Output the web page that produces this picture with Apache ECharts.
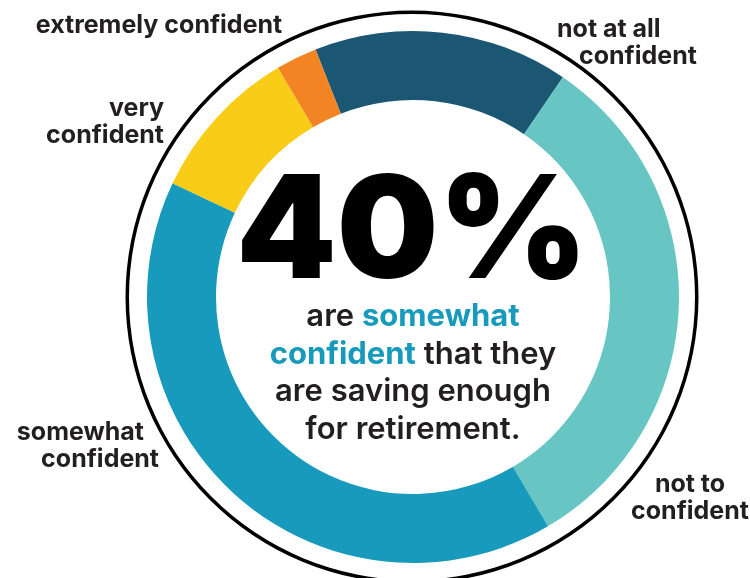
<!DOCTYPE html>
<html>
<head>
<meta charset="utf-8">
<script src="https://cdn.jsdelivr.net/npm/echarts@6/dist/echarts.min.js"></script>
<style>
html,body{margin:0;padding:0;background:#fff;}
#c{width:750px;height:578px;}
</style>
</head>
<body>
<div id="c"></div>
<script>
var categories = ['not at all confident', 'not to confident', 'somewhat confident', 'very confident', 'extremely confident'];
var values = [15.5, 32, 40.5, 9.5, 2.5];
var labelTexts = ['not at all\nconfident', 'not to\nconfident', 'somewhat\nconfident', 'very\nconfident', 'extremely confident'];
var colors = ['#1b5673', '#67c6c4', '#179abb', '#f8cc17', '#f28424'];
var headline = '40%';
var subtitleLines = ['are {h|somewhat}', '{h|confident} that they', 'are saving enough', 'for retirement.'];

var FONT = 'Inter, "Noto Sans", sans-serif';
var LFS = 25;
var labelPos = [
  {x: 557, y: 43, align: 'left'},
  {x: 690, y: 498, align: 'center'},
  {x: 159, y: 446, align: 'right'},
  {x: 164, y: 122, align: 'right'},
  {x: 159, y: 25, align: 'center'}
];

var chart = echarts.init(document.getElementById('c'), null, {renderer: 'canvas'});
var data = categories.map(function (n, i) {
  return {name: n, value: values[i], itemStyle: {color: colors[i]}};
});

chart.setOption({
  animation: false,
  series: [
    {
      type: 'pie',
      silent: true,
      center: [412, 297],
      radius: [283, 286.5],
      label: {show: false},
      labelLine: {show: false},
      itemStyle: {color: '#000'},
      data: [{name: 'ring', value: 1}]
    },
    {
      type: 'pie',
      center: [413, 297],
      radius: [197, 266],
      startAngle: 111.5,
      clockwise: true,
      avoidLabelOverlap: false,
      data: data,
      labelLine: {show: false},
      label: {
        show: true,
        position: 'outside',
        color: '#231f20',
        fontFamily: FONT,
        fontWeight: 700,
        fontSize: LFS,
        lineHeight: 27,
        formatter: function (p) {
          var t = labelTexts[p.dataIndex];
          if (p.dataIndex === 0) {
            var parts = t.split('\n');
            return '{a|' + parts[0] + '}\n{b|' + parts[1] + '}';
          }
          if (p.dataIndex === 2) {
            var ps = t.split('\n');
            return '{c|' + ps[0] + '}\n{a|' + ps[1] + '}';
          }
          return t;
        },
        rich: {
          a: {fontFamily: FONT, fontWeight: 700, fontSize: LFS, lineHeight: 27, color: '#231f20'},
          b: {fontFamily: FONT, fontWeight: 700, fontSize: LFS, lineHeight: 27, color: '#231f20', padding: [0, 0, 0, 22]},
          c: {fontFamily: FONT, fontWeight: 700, fontSize: LFS, lineHeight: 27, color: '#231f20', padding: [0, 15, 0, 0]}
        }
      },
      labelLayout: function (params) {
        var p = labelPos[params.dataIndex];
        return {x: p.x, y: p.y, align: p.align, verticalAlign: 'middle', hideOverlap: false};
      }
    }
  ],
  graphic: [
    {
      type: 'text',
      x: 412,
      y: 235,
      silent: true,
      style: {
        text: headline,
        font: '900 143px ' + FONT,
        fill: '#000',
        align: 'center',
        verticalAlign: 'middle'
      }
    },
    {
      type: 'text',
      x: 413,
      y: 373,
      silent: true,
      style: {
        text: subtitleLines.join('\n'),
        fontFamily: FONT,
        fontWeight: 600,
        fontSize: 31,
        lineHeight: 37.5,
        fill: '#231f20',
        align: 'center',
        verticalAlign: 'middle',
        rich: {
          h: {fontFamily: FONT, fontWeight: 700, fontSize: 31, lineHeight: 37.5, fill: '#179abb', color: '#179abb'}
        }
      }
    }
  ]
});
</script>
</body>
</html>
